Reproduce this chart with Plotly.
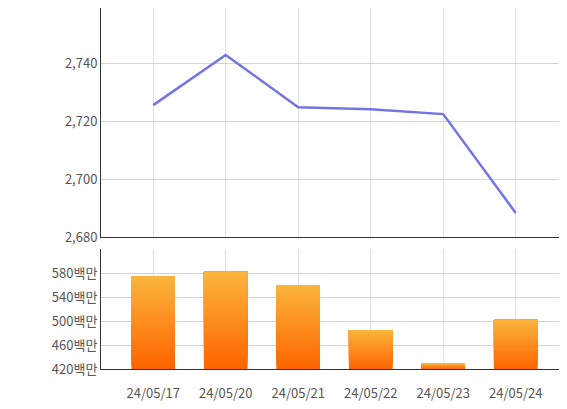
import plotly.graph_objects as go
import numpy as np

dates = ["24/05/17", "24/05/20", "24/05/21", "24/05/22", "24/05/23", "24/05/24"]
price = [2725.5, 2742.8, 2724.8, 2724.1, 2722.4, 2688.3]
volume = [575, 582, 560, 485, 430, 502]  # 백만
vol_base = 420

fig = go.Figure()
fig.add_trace(go.Scatter(x=dates, y=price, mode="lines",
                         line=dict(color="#7474e4", width=2.5),
                         xaxis="x", yaxis="y", showlegend=False))

# gradient bars: draw overlapping bars from tallest (dark) to shortest slices (light on top)
n = 30
c0 = np.array([255, 102, 0])
c1 = np.array([251, 180, 60])
heights = np.array(volume) - vol_base
for i in range(n):
    t = i / (n - 1)
    c = (c0 + (c1 - c0) * t).astype(int)
    frac = (n - i) / n
    fig.add_trace(go.Bar(x=dates, y=heights * frac, base=vol_base + heights * (1 - frac),
                         marker=dict(color="rgb(%d,%d,%d)" % tuple(c), line=dict(width=0)),
                         width=0.6, xaxis="x2", yaxis="y2", showlegend=False))

font = dict(family="Noto Sans CJK KR", size=13, color="#555")
xdom = [93 / 567, 557 / 567]
fig.update_layout(
    width=567, height=409, margin=dict(l=0, r=0, t=0, b=0),
    plot_bgcolor="white", paper_bgcolor="white", barmode="overlay", font=font,
    xaxis=dict(domain=xdom, range=[-0.72, 5.68], showticklabels=False,
               showgrid=True, gridcolor="#e2e2e2", anchor="y", automargin=False,
               showline=True, linecolor="#333", linewidth=1),
    yaxis=dict(domain=[180 / 409, 1], range=[2680, 2759], tickvals=[2680, 2700, 2720, 2740],
               tickformat=",", gridcolor="#d4d4d4", showline=True, linecolor="#333",
               anchor="x", ticks="", zeroline=False, automargin=False),
    xaxis2=dict(domain=xdom, range=[-0.72, 5.68], showgrid=True, gridcolor="#e2e2e2",
                anchor="y2", showline=True, linecolor="#333", linewidth=1, ticks="",
                ticklabelstandoff=12, automargin=False),
    yaxis2=dict(domain=[48 / 409, 168 / 409], range=[420, 620],
                tickvals=[420, 460, 500, 540, 580],
                ticktext=["420백만", "460백만", "500백만", "540백만", "580백만"],
                gridcolor="#d4d4d4", showline=True, linecolor="#333", anchor="x2",
                zeroline=False, automargin=False),
)
fig.write_html("out.html")
